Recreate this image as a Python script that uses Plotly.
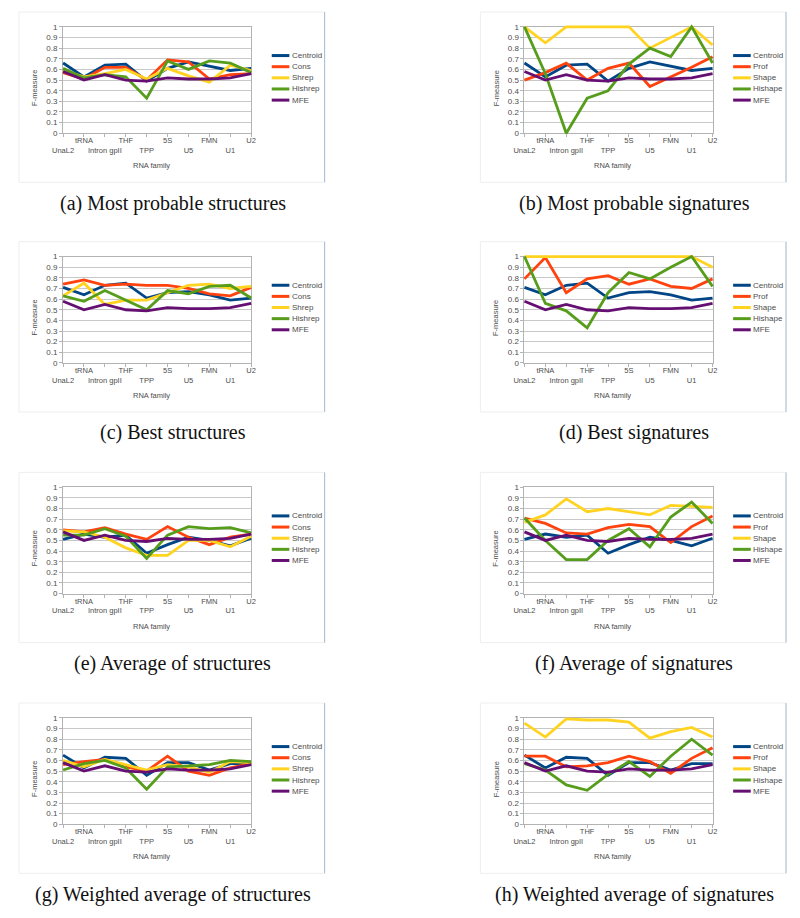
import plotly.graph_objects as go

# ---------------- data ----------------
categories = ["UnaL2", "tRNA", "Intron gpII", "THF", "TPP", "5S", "U5", "FMN", "U1", "U2"]
y_tick_values = [0, 0.1, 0.2, 0.3, 0.4, 0.5, 0.6, 0.7, 0.8, 0.9, 1]
y_tick_labels = ["0", "0.1", "0.2", "0.3", "0.4", "0.5", "0.6", "0.7", "0.8", "0.9", "1"]

mfe = [0.58, 0.50, 0.55, 0.50, 0.49, 0.52, 0.51, 0.51, 0.52, 0.56]

centroid_most_probable = [0.66, 0.53, 0.64, 0.65, 0.49, 0.61, 0.67, 0.63, 0.59, 0.61]
centroid_best = [0.71, 0.64, 0.73, 0.75, 0.61, 0.66, 0.67, 0.64, 0.59, 0.61]
centroid_average = [0.51, 0.56, 0.53, 0.55, 0.38, 0.46, 0.53, 0.50, 0.45, 0.52]
centroid_weighted = [0.65, 0.53, 0.63, 0.62, 0.46, 0.58, 0.58, 0.51, 0.57, 0.57]

cons_most_probable = [0.57, 0.51, 0.62, 0.62, 0.50, 0.69, 0.67, 0.51, 0.55, 0.56]
shrep_most_probable = [0.59, 0.53, 0.56, 0.60, 0.51, 0.61, 0.54, 0.48, 0.64, 0.59]
hishrep_most_probable = [0.61, 0.52, 0.55, 0.53, 0.33, 0.68, 0.60, 0.68, 0.66, 0.57]

prof_most_probable = [0.50, 0.57, 0.66, 0.50, 0.61, 0.66, 0.44, 0.53, 0.62, 0.72]
shape_most_probable = [1.00, 0.85, 1.00, 1.00, 1.00, 1.00, 0.80, 0.90, 1.00, 0.83]
hishape_most_probable = [1.00, 0.56, 0.00, 0.33, 0.40, 0.65, 0.80, 0.72, 1.00, 0.66]

cons_best = [0.74, 0.78, 0.73, 0.74, 0.73, 0.73, 0.70, 0.65, 0.63, 0.71]
shrep_best = [0.63, 0.75, 0.55, 0.59, 0.59, 0.66, 0.73, 0.74, 0.70, 0.72]
hishrep_best = [0.63, 0.58, 0.68, 0.59, 0.50, 0.68, 0.65, 0.72, 0.73, 0.61]

prof_best = [0.79, 0.99, 0.66, 0.79, 0.82, 0.74, 0.79, 0.72, 0.70, 0.79]
shape_best = [1.00, 1.00, 1.00, 1.00, 1.00, 1.00, 1.00, 1.00, 1.00, 0.90]
hishape_best = [1.00, 0.56, 0.49, 0.33, 0.66, 0.85, 0.79, 0.90, 1.00, 0.72]

cons_average = [0.60, 0.58, 0.62, 0.56, 0.51, 0.63, 0.53, 0.46, 0.53, 0.56]
shrep_average = [0.59, 0.58, 0.53, 0.43, 0.36, 0.36, 0.50, 0.50, 0.44, 0.54]
hishrep_average = [0.55, 0.55, 0.61, 0.54, 0.33, 0.55, 0.63, 0.61, 0.62, 0.57]

prof_average = [0.71, 0.66, 0.57, 0.56, 0.62, 0.65, 0.63, 0.48, 0.63, 0.73]
shape_average = [0.67, 0.74, 0.89, 0.77, 0.80, 0.77, 0.74, 0.83, 0.82, 0.81]
hishape_average = [0.71, 0.50, 0.32, 0.32, 0.50, 0.61, 0.44, 0.72, 0.86, 0.66]

cons_weighted = [0.56, 0.59, 0.61, 0.54, 0.50, 0.64, 0.50, 0.46, 0.53, 0.57]
shrep_weighted = [0.60, 0.54, 0.61, 0.56, 0.51, 0.56, 0.54, 0.49, 0.59, 0.58]
hishrep_weighted = [0.51, 0.57, 0.60, 0.53, 0.33, 0.54, 0.55, 0.56, 0.60, 0.59]

prof_weighted = [0.64, 0.64, 0.54, 0.55, 0.58, 0.64, 0.59, 0.48, 0.62, 0.72]
shape_weighted = [0.95, 0.82, 0.99, 0.98, 0.98, 0.96, 0.81, 0.87, 0.91, 0.82]
hishape_weighted = [0.57, 0.51, 0.37, 0.32, 0.47, 0.59, 0.45, 0.64, 0.80, 0.65]

structure_names = ["Centroid", "Cons", "Shrep", "Hishrep", "MFE"]
signature_names = ["Centroid", "Prof", "Shape", "Hishape", "MFE"]
series_colors = ["#004586", "#ff420e", "#ffd320", "#579d1c", "#660f73"]

captions = [
    "(a) Most probable structures", "(b) Most probable signatures",
    "(c) Best structures", "(d) Best signatures",
    "(e) Average of structures", "(f) Average of signatures",
    "(g) Weighted average of structures", "(h) Weighted average of signatures",
]

panel_series = [
    [centroid_most_probable, cons_most_probable, shrep_most_probable, hishrep_most_probable, mfe],
    [centroid_most_probable, prof_most_probable, shape_most_probable, hishape_most_probable, mfe],
    [centroid_best, cons_best, shrep_best, hishrep_best, mfe],
    [centroid_best, prof_best, shape_best, hishape_best, mfe],
    [centroid_average, cons_average, shrep_average, hishrep_average, mfe],
    [centroid_average, prof_average, shape_average, hishape_average, mfe],
    [centroid_weighted, cons_weighted, shrep_weighted, hishrep_weighted, mfe],
    [centroid_weighted, prof_weighted, shape_weighted, hishape_weighted, mfe],
]

# ---------------- layout geometry (window pixels) ----------------
# the page body has an 8px margin on every side; size the figure so the page
# fits the 800x918 window exactly and map window pixels into it
OFF = 8
W, H = 800 - 2 * OFF, 918 - 2 * OFF
col_left = [53, 524]
col_right = [245, 716]
row_top = [23, 255, 488, 721]
PLOT_H = 107.5
frame_x = [(8, 320), (479, 791)]
caption_x = [165, 636]
PAD = 4  # extra room so lines at 0 / 1 are not clipped


def fx(x):
    return (x - OFF) / W


def fy(y):
    return 1 - (y - OFF) / H


fig = go.Figure()
layout = dict(
    width=W, height=H, margin=dict(l=0, r=0, t=0, b=0, pad=0),
    paper_bgcolor="white", plot_bgcolor="rgba(0,0,0,0)",
    showlegend=False, font=dict(family="Liberation Sans", color="#444444"),
)
shapes = []
annotations = []

ytick_font = dict(family="Liberation Sans", size=8, color="#4d4d4d")
xtick_font = dict(family="Liberation Sans", size=7.5, color="#4d4d4d")
staggered = [("<br>" + c) if i % 2 == 0 else c for i, c in enumerate(categories)]

for k in range(8):
    col = k % 2
    row = k // 2
    L, R = col_left[col], col_right[col]
    T = row_top[row]
    B = T + PLOT_H
    vis = 2 * k + 1
    dat = 2 * k + 2
    vx = "xaxis" if vis == 1 else f"xaxis{vis}"
    vy = "yaxis" if vis == 1 else f"yaxis{vis}"
    vxid = "x" if vis == 1 else f"x{vis}"
    vyid = "y" if vis == 1 else f"y{vis}"
    n = len(categories) - 1

    # visible axes: grid, frame, ticks and labels
    layout[vx] = dict(
        domain=[fx(L), fx(R)], anchor=vyid, type="linear", range=[0, n],
        tickmode="array", tickvals=list(range(len(categories))), ticktext=staggered,
        ticks="outside", ticklen=3, tickcolor="#b3b3b3", tickfont=xtick_font,
        ticklabelstandoff=-3,
        showline=True, linecolor="#b3b3b3", linewidth=1, mirror=True,
        showgrid=False, zeroline=False, fixedrange=True, tickangle=0,
    )
    layout[vy] = dict(
        domain=[fy(B), fy(T)], anchor=vxid, range=[0, 1],
        tickmode="array", tickvals=y_tick_values, ticktext=y_tick_labels,
        ticks="outside", ticklen=3, tickcolor="#b3b3b3", tickfont=ytick_font,
        showline=True, linecolor="#b3b3b3", linewidth=1, mirror=True,
        showgrid=True, gridcolor="#c8c8c8", gridwidth=1, zeroline=False, fixedrange=True,
    )
    # empty trace so the frame subplot is drawn
    fig.add_trace(go.Scatter(x=[], y=[], xaxis=vxid, yaxis=vyid,
                             showlegend=False, hoverinfo="skip"))

    # data axes (same scale, slightly larger window so thick lines are not clipped)
    xu = n / (R - L)
    yu = 1 / (B - T)
    dx = f"xaxis{dat}"
    dy = f"yaxis{dat}"
    layout[dx] = dict(
        domain=[fx(L - PAD), fx(R + PAD)], anchor=f"y{dat}", type="category",
        categoryorder="array", categoryarray=categories,
        range=[-PAD * xu, n + PAD * xu], visible=False, fixedrange=True,
    )
    layout[dy] = dict(
        domain=[fy(B + PAD), fy(T - PAD)], anchor=f"x{dat}",
        range=[-PAD * yu, 1 + PAD * yu], visible=False, fixedrange=True,
    )

    names = structure_names if col == 0 else signature_names
    for name, values, color in zip(names, panel_series[k], series_colors):
        fig.add_trace(go.Scatter(
            x=categories, y=values, name=name, mode="lines",
            line=dict(color=color, width=2.8),
            xaxis=f"x{dat}", yaxis=f"y{dat}", hoverinfo="x+y+name",
        ))

    # legend (drawn as swatches + labels)
    for i, (name, color) in enumerate(zip(names, series_colors)):
        yy = T + 29 + 11.25 * i
        shapes.append(dict(type="line", xref="paper", yref="paper",
                           x0=fx(R + 21), x1=fx(R + 39), y0=fy(yy), y1=fy(yy),
                           line=dict(color=color, width=3)))
        annotations.append(dict(text=name, xref="paper", yref="paper",
                                x=fx(R + 39.5), y=fy(yy), xanchor="left", yanchor="middle",
                                showarrow=False,
                                font=dict(family="Liberation Sans", size=8, color="#4d4d4d")))

    # axis titles
    annotations.append(dict(text="RNA family", xref="paper", yref="paper",
                            x=fx(L + 90), y=fy(T + 140.5), xanchor="center", yanchor="middle",
                            showarrow=False,
                            font=dict(family="Liberation Sans", size=7.5, color="#4d4d4d")))
    annotations.append(dict(text="F-measure", xref="paper", yref="paper",
                            x=fx(L - 29), y=fy(T + 62), xanchor="center", yanchor="middle",
                            textangle=-90, showarrow=False,
                            font=dict(family="Liberation Sans", size=7.5, color="#4d4d4d")))

    # chart frame
    x0f, x1f = frame_x[col]
    shapes.append(dict(type="rect", xref="paper", yref="paper",
                       x0=fx(x0f), x1=fx(x1f), y0=fy(T + 157), y1=fy(T - 15),
                       line=dict(color="#eeeeee", width=1), layer="below"))
    shapes.append(dict(type="line", xref="paper", yref="paper",
                       x0=fx(x1f), x1=fx(x1f), y0=fy(T + 157), y1=fy(T - 15),
                       line=dict(color="#a9bcd2", width=1)))

    # caption
    annotations.append(dict(text=captions[k], xref="paper", yref="paper",
                            x=fx(caption_x[col]), y=fy(T + 178), xanchor="center", yanchor="middle",
                            showarrow=False,
                            font=dict(family="Liberation Serif", size=20, color="#111111")))

layout["shapes"] = shapes
layout["annotations"] = annotations
fig.update_layout(**layout)
fig.write_html("out.html")
